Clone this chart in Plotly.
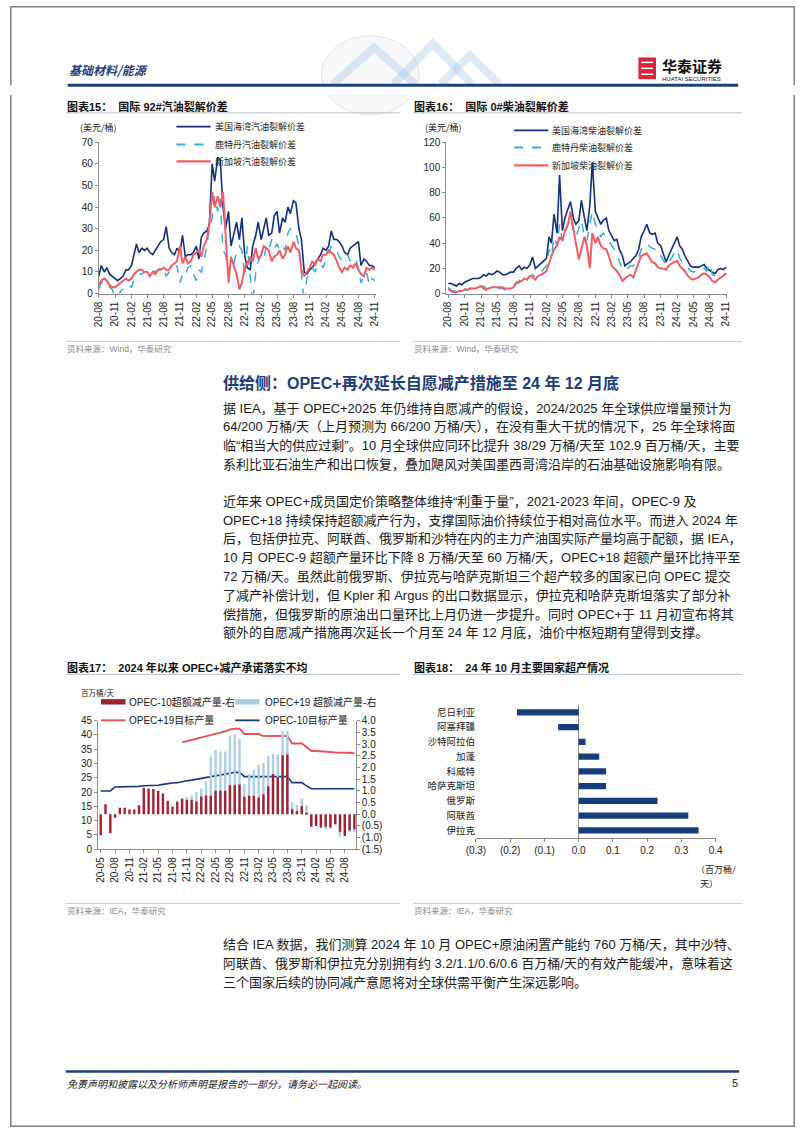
import pandas as pd
import plotly.graph_objects as go

W, H = 802, 1133
FONT = "Liberation Sans, Noto Sans CJK SC, sans-serif"
CJK = "Noto Sans CJK SC, sans-serif"
NAVY = "#10307a"
LBLUE = "#35ace0"
RED = "#f25c64"

# ---------------- data ----------------
# 图表15 / 16: semi-monthly readings, 2020-08 .. 2024-11
gas_us = [8, 13, 10, 12, 9, 8, 7, 6, 7, 8,
          11, 11, 13, 18, 23, 19, 21, 20, 21, 19,
          18, 20, 22, 24, 25, 31, 21, 19, 18, 21,
          19, 27, 17, 18, 18, 19, 22, 16, 26, 28,
          29, 32, 60, 52, 63, 62, 40, 30, 38, 22,
          28, 33, 25, 35, 17, 12, 11, 22, 27, 33,
          25, 30, 35, 27, 28, 36, 38, 28, 35, 33,
          40, 37, 43, 42, 30, 25, 10, 9, 11, 12,
          14, 16, 18, 21, 20, 22, 29, 25, 25, 24,
          22, 19, 18, 21, 22, 23, 24, 13, 16, 15,
          13, 13, 12]
gas_rt = [2, 5, 6, 4, 3, 2, -2, -2, 1, 2,
          2, 4, 3, 6, 7, 9, 9, 10, 10, 9,
          11, 10, 11, 12, 12, 8, 10, 11, 11, 13,
          5, 9, 8, 12, 13, 9, 6, 11, 10, 15,
          22, 30, 35, 45, 38, 44, 20, 18, 10, 15,
          14, 20, 22, 20, 8, 22, 10, -5, 10, 15,
          18, 16, 22, 20, 25, 21, 23, 20, 22, 20,
          28, 30, 30, 28, 22, 10, -5, 7, 10, 12,
          10, 13, 14, 12, 16, 18, 22, 20, 20, 17,
          15, 16, 18, 15, 17, 16, 12, 5, 8, 10,
          4, 7, 6]
gas_sg = [4, 6, 7, 6, 4, 3, 3, 4, 5, 6,
          7, 6, 7, 9, 10, 11, 11, 10, 10, 8,
          10, 9, 11, 11, 12, 11, 11, 13, 14, 15,
          22, 14, 17, 14, 15, 18, 19, 20, 17, 22,
          25, 32, 47, 40, 45, 40, 47, 30, 5, 17,
          12, 9, 2, 5, 12, 14, 17, 15, 21, 16,
          18, 22, 21, 20, 15, 17, 18, 20, 16, 18,
          22, 19, 24, 21, 20, 11, 8, 10, 12, 15,
          13, 16, 15, 18, 18, 20, 19, 18, 15, 12,
          10, 12, 11, 13, 12, 14, 11, 9, 8, 12,
          11, 12, 11]

dsl_us = [8, 8, 7, 6, 8, 7, 9, 10, 11, 12,
          12, 12, 13, 15, 14, 16, 15, 16, 18, 17,
          15, 15, 16, 17, 17, 20, 22, 19, 21, 20,
          23, 29, 20, 22, 24, 26, 28, 45, 40, 63,
          48, 94, 50, 60, 68, 73, 60, 55, 58, 74,
          60, 50, 70, 104, 65, 60, 55, 58, 60, 50,
          45, 42, 43, 35, 30, 22, 24, 25, 28, 30,
          35, 45, 50, 55, 48, 47, 48, 40, 38, 32,
          25, 30, 35, 40, 45, 38, 35, 30, 25, 22,
          21, 21, 21, 22, 23, 20, 18, 17, 16, 19,
          20, 19, 21]
dsl_rt = [5, 3, 2, 2, 3, 3, 4, 3, 4, 4,
          5, 4, 5, 6, 4, 4, 5, 5, 5, 4,
          4, 3, 4, 5, 6, 9, 10, 12, 13, 12,
          14, 15, 13, 16, 17, 19, 22, 35, 30, 45,
          38, 55, 42, 48, 55, 60, 50, 45, 52, 58,
          45, 42, 55, 65, 55, 50, 45, 48, 45, 42,
          38, 35, 30, 25, 20, 18, 20, 22, 22, 25,
          28, 35, 38, 40, 37, 36, 35, 30, 30, 27,
          22, 25, 28, 32, 35, 28, 25, 22, 20, 18,
          17, 18, 18, 19, 20, 18, 24, 15, 14, 15,
          16, 15, 16]
dsl_sg = [4, 2, 1, 1, 2, 2, 3, 3, 4, 4,
          4, 5, 6, 4, 3, 4, 5, 5, 5, 5,
          5, 4, 4, 4, 5, 8, 9, 10, 12, 11,
          14, 13, 11, 14, 15, 16, 18, 25, 30, 35,
          38, 45, 42, 50, 55, 65, 50, 40, 27, 35,
          45, 38, 20, 48, 40, 45, 38, 36, 35, 30,
          22, 20, 18, 15, 10, 12, 14, 15, 13, 18,
          25, 30, 31, 32, 28, 25, 24, 21, 20, 20,
          19, 22, 24, 25, 26, 22, 20, 18, 14, 12,
          11, 12, 13, 15, 16, 15, 13, 10, 9, 11,
          13, 14, 16]

crack_ticks = ["20-08", "20-11", "21-02", "21-05", "21-08", "21-11", "22-02", "22-05", "22-08",
               "22-11", "23-02", "23-05", "23-08", "23-11", "24-02", "24-05", "24-08", "24-11"]

# 图表17: monthly, 2020-05 .. 2024-10
opec10_excess = [-0.9, 0.42, -0.82, -0.15, 0.28, 0.28, 0.2, 0.2, 0.38, 1.13,
                 1.1, 1.08, 0.99, 0.88, 0.57, 0.33, 0.54, 0.66, 0.62, 0.62,
                 0.54, 0.76, 0.8, 0.79, 1.0, 1.0, 1.0, 1.24, 1.24, 1.27,
                 0.75, 0.79, 0.79, 0.71, 0.85, 1.2, 1.72, 1.58, 2.52, 2.55,
                 0.21, 0.14, 0.35, 0.05, -0.54, -0.5, -0.57, -0.54, -0.57, -0.42,
                 -0.75, -0.93, -0.7, -0.64]
opec19_excess = [None] * 17 + [0.68, 0.72, 0.8, 0.95, 1.1, 1.4,
                               2.47, 2.75, 2.68, 2.68, 3.36, 3.42, 3.22,
                               1.3, 1.72, 1.9, 2.1, 2.19, 2.5, 2.57, 2.55, 3.56, 3.56,
                               0.52, 0.4, 0.66, 0.38,
                               -0.5, -0.48, -0.6, -0.64, -0.62, -0.5,
                               -0.99, -0.92, -0.75, -0.78]
opec19_target = [None] * 17 + [37.4, 37.8, 38.2, 38.6, 39.0, 39.4, 39.8, 40.3, 40.8, 41.3, 41.9, 42.2, 42.2,
                               40.3, 40.3, 40.3, 40.3, 39.6, 39.6, 39.6, 39.6, 39.6, 39.6,
                               37.0, 37.0, 37.0, 35.8, 34.4, 34.4, 34.2, 34.1, 34.0, 33.9, 33.9, 33.9, 33.8, 33.6]
opec10_target = [20.4, 20.4, 20.4, 21.8, 21.8, 21.8, 21.8, 21.8, 22.0, 22.2,
                 22.2, 22.2, 22.4, 22.7, 23.0, 23.2, 23.3, 23.7, 24.0, 24.2,
                 24.5, 24.7, 25.0, 25.3, 25.6, 25.9, 26.2, 26.6, 26.9, 26.9,
                 25.4, 25.4, 25.4, 25.4, 25.4, 25.4, 25.4, 25.4, 25.4, 25.4,
                 23.3, 23.3, 23.3, 22.2, 21.2, 21.2, 21.2, 21.2, 21.2, 21.2,
                 21.2, 21.2, 21.2, 21.2]
opec_ticks = ["20-05", "20-08", "20-11", "21-02", "21-05", "21-08", "21-11", "22-02", "22-05",
              "22-08", "22-11", "23-02", "23-05", "23-08", "23-11", "24-02", "24-05", "24-08"]
right_ticks = ["(1.5)", "(1.0)", "(0.5)", "0.0", "0.5", "1.0", "1.5", "2.0", "2.5", "3.0", "3.5", "4.0"]

# 图表18
countries = ["尼日利亚", "阿塞拜疆", "沙特阿拉伯", "加蓬", "科威特", "哈萨克斯坦", "俄罗斯", "阿联酋", "伊拉克"]
overprod = [-0.18, -0.06, 0.02, 0.06, 0.08, 0.08, 0.23, 0.32, 0.35]
bar_ticks = ["(0.3)", "(0.2)", "(0.1)", "0.0", "0.1", "0.2", "0.3", "0.4"]

dates = pd.date_range("2020-08-01", periods=len(gas_us), freq="SMS")
qtr = pd.date_range("2020-08-01", "2024-11-01", freq="3MS")
months = list(range(len(opec10_excess)))


def fx(x):
    return x / W


def fy(y):
    return 1 - y / H


fig = go.Figure()

# chart 15
fig.add_trace(go.Scatter(x=dates, y=gas_us, mode="lines", line=dict(color=NAVY, width=1.6), xaxis="x", yaxis="y"))
fig.add_trace(go.Scatter(x=dates, y=gas_rt, mode="lines", line=dict(color=LBLUE, width=1.5, dash="dash"), xaxis="x", yaxis="y"))
fig.add_trace(go.Scatter(x=dates, y=gas_sg, mode="lines", line=dict(color=RED, width=2), xaxis="x", yaxis="y"))
# chart 16
fig.add_trace(go.Scatter(x=dates, y=dsl_us, mode="lines", line=dict(color=NAVY, width=1.6), xaxis="x2", yaxis="y2"))
fig.add_trace(go.Scatter(x=dates, y=dsl_rt, mode="lines", line=dict(color=LBLUE, width=1.5, dash="dash"), xaxis="x2", yaxis="y2"))
fig.add_trace(go.Scatter(x=dates, y=dsl_sg, mode="lines", line=dict(color=RED, width=2), xaxis="x2", yaxis="y2"))
# chart 17
fig.add_trace(go.Bar(x=months, y=opec19_excess, width=0.5, marker=dict(color="#a9cfe3", line_width=0), xaxis="x3", yaxis="y4"))
fig.add_trace(go.Bar(x=months, y=opec10_excess, width=0.5, marker=dict(color="#a3202f", line_width=0), xaxis="x3", yaxis="y4"))
fig.add_trace(go.Scatter(x=months, y=opec19_target, mode="lines", line=dict(color="#e8545a", width=2), xaxis="x3", yaxis="y3"))
fig.add_trace(go.Scatter(x=months, y=opec10_target, mode="lines", line=dict(color="#16367a", width=1.6), xaxis="x3", yaxis="y3"))
# chart 18
fig.add_trace(go.Bar(x=overprod, y=countries, orientation="h", width=0.42, marker=dict(color="#173e7c", line_width=0),
                     xaxis="x4", yaxis="y5"))

ax = dict(showline=True, linecolor="#8c8c8c", linewidth=1, ticks="outside", ticklen=3, tickcolor="#8c8c8c",
          showgrid=False, zeroline=False, tickfont=dict(family=FONT, size=10, color="#222"))

fig.update_layout(
    width=W, height=H, margin=dict(l=0, r=0, t=0, b=0), showlegend=False,
    paper_bgcolor="white", plot_bgcolor="white", barmode="overlay",
    xaxis=dict(ax, domain=[fx(90.7), fx(374)], range=["2020-08-01", "2024-11-08"], type="date",
               tickvals=qtr, ticktext=crack_ticks, tickangle=-90, anchor="y"),
    yaxis=dict(ax, domain=[fy(290.7), fy(137.7)], range=[0, 70], dtick=10, anchor="x"),
    xaxis2=dict(ax, domain=[fx(445.7), fx(733)], range=["2020-07-21", "2024-11-08"], type="date",
                tickvals=qtr, ticktext=crack_ticks, tickangle=-90, anchor="y2"),
    yaxis2=dict(ax, domain=[fy(290.7), fy(137.7)], range=[0, 120], dtick=20, anchor="x2"),
    xaxis3=dict(ax, domain=[fx(90), fx(353.3)], range=[-0.55, 53.3], tickvals=list(range(0, 54, 3)),
                ticktext=opec_ticks, tickangle=-90, anchor="y3"),
    yaxis3=dict(ax, domain=[fy(852.3), fy(722.3)], range=[0, 45], dtick=5, anchor="x3"),
    yaxis4=dict(ax, range=[-1.5, 4.0], tickvals=[-1.5 + 0.5 * i for i in range(12)], ticktext=right_ticks,
                overlaying="y3", side="right", anchor="x3"),
    xaxis4=dict(ax, domain=[fx(476), fx(721)], range=[-0.3, 0.4], tickvals=[-0.3 + 0.1 * i for i in range(8)],
                ticktext=bar_ticks, anchor="y5"),
    yaxis5=dict(domain=[fy(840.7), fy(706.5)], type="category", autorange="reversed", showline=False,
                ticks="", showgrid=False, anchor="x4", tickfont=dict(family=CJK, size=9.5, color="#222")),
)
fig.layout.xaxis4.zeroline = True
fig.layout.xaxis4.zerolinecolor = "#8c8c8c"
fig.layout.xaxis4.zerolinewidth = 1


def txt(x, y, s, size=13, color="#222", anchor="left", family=FONT, weight="normal", style="normal"):
    fig.add_annotation(x=fx(x), y=fy(y), xref="paper", yref="paper", text=s, showarrow=False,
                       xanchor=anchor, yanchor="middle", borderpad=0,
                       font=dict(family=family, size=size, color=color, weight=weight, style=style))


def hline(x0, x1, y, color, width=1, dash="solid"):
    fig.add_shape(type="line", xref="paper", yref="paper", x0=fx(x0), x1=fx(x1), y0=fy(y), y1=fy(y),
                  line=dict(color=color, width=width, dash=dash))


def box(x0, x1, y0, y1, color):
    fig.add_shape(type="rect", xref="paper", yref="paper", x0=fx(x0), x1=fx(x1), y0=fy(y0), y1=fy(y1),
                  fillcolor=color, line_width=0)


# page frame + header
fig.add_shape(type="rect", xref="paper", yref="paper", x0=fx(0.8), x1=fx(801.2), y0=fy(0.8), y1=fy(1132.2),
              line=dict(color="#808080", width=1.5))
fig.add_shape(type="circle", xref="paper", yref="paper", x0=fx(318), x1=fx(418), y0=fy(110), y1=fy(30),
              line=dict(color="#e2e5ea", width=1), fillcolor="rgba(240,242,246,0.5)", layer="below")
for pts in [[(330, 79), (372, 42), (414, 79)], [(392, 79), (432, 38), (472, 79)], [(440, 79), (470, 50), (500, 79)]]:
    path = "M " + " L ".join(f"{fx(a)},{fy(b)}" for a, b in pts)
    fig.add_shape(type="path", xref="paper", yref="paper", path=path,
                  line=dict(color="rgba(160,196,232,0.35)", width=8), layer="below")
box(0, 802, 80, 90, "white")
txt(59, 64, "基础材料/能源", size=12, color="#1f3f7a", family=CJK, weight="bold", style="italic")
box(642, 660, 52, 74, "#d7263d")
for yy in [57, 63, 69]:
    hline(645, 657, yy, "white", 1.5)
txt(665, 60, "华泰证券", size=15, color="#111", family=CJK, weight="bold")
txt(665, 73.5, "HUATAI SECURITIES", size=6, color="#111", family=FONT)
hline(59, 744, 80, "#1f3f7a", 3)

# chart titles / sources
for x0, x1, title in [(57, 398, "图表15：  国际 92#汽油裂解价差"), (412, 748, "图表16：  国际 0#柴油裂解价差")]:
    txt(x0, 101.5, title, size=11, color="#111", weight="bold")
    hline(x0, x1, 108, "#b4bfcc", 1)
    hline(x0, x1, 339, "#c8ced6", 1)
    txt(x0, 347, "资料来源：Wind，华泰研究", size=8.5, color="#8a8a8a")
for x0, x1, title in [(57, 398, "图表17：  2024 年以来 OPEC+减产承诺落实不均"), (412, 748, "图表18：  24 年 10 月主要国家超产情况")]:
    txt(x0, 669, title, size=11, color="#111", weight="bold")
    hline(x0, x1, 675.5, "#b4bfcc", 1)
    hline(x0, x1, 907, "#c8ced6", 1)
    txt(x0, 915, "资料来源：IEA，华泰研究", size=8.5, color="#8a8a8a")

# chart 15 / 16 unit + legends
txt(70, 123, "(美元/桶)", size=9, color="#222", family=CJK)
txt(423, 123, "(美元/桶)", size=9, color="#222", family=CJK)
for lx, ly, names in [(170, [122, 140, 157], ["美国海湾汽油裂解价差", "鹿特丹汽油裂解价差", "新加坡汽油裂解价差"]),
                      (515, [125.7, 143, 161], ["美国海湾柴油裂解价差", "鹿特丹柴油裂解价差", "新加坡柴油裂解价差"])]:
    hline(lx, lx + 35, ly[0], NAVY, 1.8)
    hline(lx, lx + 35, ly[1], LBLUE, 1.8, "dash")
    hline(lx, lx + 35, ly[2], RED, 2.2)
    for yy, nm in zip(ly, names):
        txt(lx + 38, yy, nm, size=9, color="#222", family=CJK)

# chart 17 legend
txt(72, 694, "百万桶/天", size=7.5, color="#222", family=CJK)
box(93, 118, 700.5, 706, "#a3202f")
box(230, 255, 700.5, 706, "#a9cfe3")
hline(93, 118, 722, "#e8545a", 2)
hline(230, 255, 722, "#16367a", 1.8)
txt(121, 703.5, "OPEC-10超额减产量-右", size=10)
txt(259, 703.5, "OPEC+19 超额减产量-右", size=10)
txt(121, 722, "OPEC+19目标产量", size=10)
txt(259, 722, "OPEC-10目标产量", size=10)

# chart 18 unit
txt(700, 873, "（百万桶/", size=9, color="#222", family=CJK)
txt(704, 887, "天）", size=9, color="#222", family=CJK)

# body text
txt(217, 381, "供给侧：OPEC+再次延长自愿减产措施至 24 年 12 月底", size=16, color="#1c3d78", weight="bold")
p1 = ["据 IEA，基于 OPEC+2025 年仍维持自愿减产的假设，2024/2025 年全球供应增量预计为",
      "64/200 万桶/天（上月预测为 66/200 万桶/天），在没有重大干扰的情况下，25 年全球将面",
      "临“相当大的供应过剩”。10 月全球供应同环比提升 38/29 万桶/天至 102.9 百万桶/天，主要",
      "系利比亚石油生产和出口恢复，叠加飓风对美国墨西哥湾沿岸的石油基础设施影响有限。"]
p2 = ["近年来 OPEC+成员国定价策略整体维持“利重于量”，2021-2023 年间，OPEC-9 及",
      "OPEC+18 持续保持超额减产行为，支撑国际油价持续位于相对高位水平。而进入 2024 年",
      "后，包括伊拉克、阿联酋、俄罗斯和沙特在内的主力产油国实际产量均高于配额，据 IEA，",
      "10 月 OPEC-9 超额产量环比下降 8 万桶/天至 60 万桶/天，OPEC+18 超额产量环比持平至",
      "72 万桶/天。虽然此前俄罗斯、伊拉克与哈萨克斯坦三个超产较多的国家已向 OPEC 提交",
      "了减产补偿计划，但 Kpler 和 Argus 的出口数据显示，伊拉克和哈萨克斯坦落实了部分补",
      "偿措施，但俄罗斯的原油出口量环比上月仍进一步提升。同时 OPEC+于 11 月初宣布将其",
      "额外的自愿减产措施再次延长一个月至 24 年 12 月底，油价中枢短期有望得到支撑。"]
p3 = ["结合 IEA 数据，我们测算 2024 年 10 月 OPEC+原油闲置产能约 760 万桶/天，其中沙特、",
      "阿联酋、俄罗斯和伊拉克分别拥有约 3.2/1.1/0.6/0.6 百万桶/天的有效产能缓冲，意味着这",
      "三个国家后续的协同减产意愿将对全球供需平衡产生深远影响。"]
for start, lines in [(406.5, p1), (500.7, p2), (949, p3)]:
    for i, line in enumerate(lines):
        txt(217, start + 19 * i, line, size=13, color="#1a1a1a")

# footer
hline(57, 745, 1077, "#1f3f7a", 2.5)
txt(57, 1089, "免责声明和披露以及分析师声明是报告的一部分，请务必一起阅读。", size=10, color="#222", family=CJK, style="italic")
txt(745, 1089, "5", size=11, color="#222", anchor="right")

fig.write_html("out.html", post_script="document.body.style.margin='0';", config={"displayModeBar": False})
